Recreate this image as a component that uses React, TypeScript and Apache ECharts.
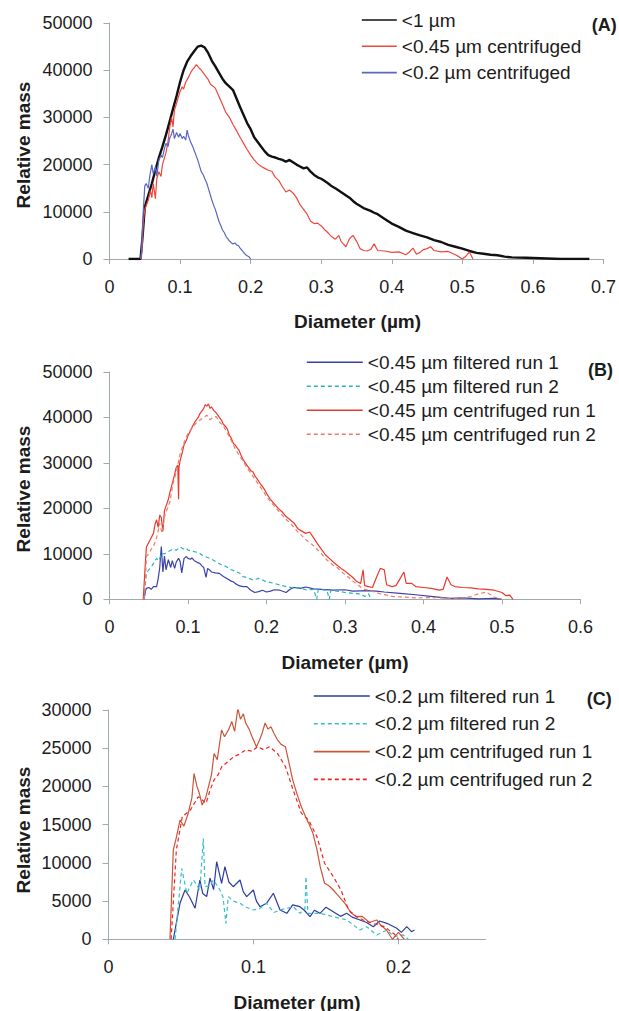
import React, { useEffect, useRef } from "react";
import * as echarts from "echarts";

// ---------- Data (diameter in µm, relative mass) ----------
// Panel A
const aBelow1: number[][] = [[0.027,0],[0.044,0],[0.047,5000],[0.05,11000],[0.055,13500],[0.06,16000],[0.065,18800],[0.07,21500],[0.075,23800],[0.08,26300],[0.085,29000],[0.09,31800],[0.095,34500],[0.1,37500],[0.105,40000],[0.11,41800],[0.115,43000],[0.12,44000],[0.125,45000],[0.13,45200],[0.135,44800],[0.14,43600],[0.145,42000],[0.15,40800],[0.155,39500],[0.16,38200],[0.165,37200],[0.17,36500],[0.175,35800],[0.18,34000],[0.185,32200],[0.19,30500],[0.195,28800],[0.2,27500],[0.205,25800],[0.21,24800],[0.215,23800],[0.22,22800],[0.225,22000],[0.23,21700],[0.235,21500],[0.24,21200],[0.245,21000],[0.25,20600],[0.255,21000],[0.26,20500],[0.265,20000],[0.27,19600],[0.275,19200],[0.28,19400],[0.285,18500],[0.29,17800],[0.295,17300],[0.3,17000],[0.305,16500],[0.31,16000],[0.315,15400],[0.32,15000],[0.33,14000],[0.34,13000],[0.345,12300],[0.35,11700],[0.36,10800],[0.37,10200],[0.375,9800],[0.38,9500],[0.39,8500],[0.4,7500],[0.41,6800],[0.42,6000],[0.43,5500],[0.44,5000],[0.45,4600],[0.46,4000],[0.47,3600],[0.48,3000],[0.49,2600],[0.5,2200],[0.51,1700],[0.52,1300],[0.53,1100],[0.54,900],[0.55,800],[0.56,500],[0.57,350],[0.58,300],[0.59,250],[0.6,200],[0.62,100],[0.64,0],[0.68,0]];
const aCentr045: number[][] = [[0.044,0],[0.046,2000],[0.048,8000],[0.05,10500],[0.055,12500],[0.058,14500],[0.06,13000],[0.062,16000],[0.065,12800],[0.067,17000],[0.07,18500],[0.073,17500],[0.075,20000],[0.08,22500],[0.083,25000],[0.085,27500],[0.088,30000],[0.09,28000],[0.092,31500],[0.095,33000],[0.1,35500],[0.103,36500],[0.105,36000],[0.108,37500],[0.11,38000],[0.113,38800],[0.115,39500],[0.118,40200],[0.12,40500],[0.123,41200],[0.125,40800],[0.128,40300],[0.13,40000],[0.135,39000],[0.14,38000],[0.143,37000],[0.145,36800],[0.15,36200],[0.155,34500],[0.16,32800],[0.165,31000],[0.17,30000],[0.175,28500],[0.18,27200],[0.185,25800],[0.19,24500],[0.195,23200],[0.2,22000],[0.205,21000],[0.21,20200],[0.215,19600],[0.22,19200],[0.225,18800],[0.23,18600],[0.235,17300],[0.24,16600],[0.245,15300],[0.25,14200],[0.255,14600],[0.26,14000],[0.265,13000],[0.27,11500],[0.275,10500],[0.28,9500],[0.285,8000],[0.29,7500],[0.295,7600],[0.3,7000],[0.305,6200],[0.31,5500],[0.315,4700],[0.32,4200],[0.325,5000],[0.328,3800],[0.33,3400],[0.335,2600],[0.34,4300],[0.345,5000],[0.35,3800],[0.355,2200],[0.36,1800],[0.365,1700],[0.37,2000],[0.375,3200],[0.38,1800],[0.39,1700],[0.4,1400],[0.41,1500],[0.42,900],[0.425,1500],[0.43,2300],[0.435,1000],[0.44,1400],[0.445,2000],[0.45,2200],[0.455,2600],[0.46,1800],[0.47,1500],[0.48,1600],[0.49,900],[0.495,500],[0.5,0],[0.505,600],[0.51,1500],[0.515,0]];
const aCentr02: number[][] = [[0.045,0],[0.047,8000],[0.05,15500],[0.052,16000],[0.055,15000],[0.057,17500],[0.06,20000],[0.062,18000],[0.065,19500],[0.067,17500],[0.07,21000],[0.073,22000],[0.075,21500],[0.078,23500],[0.08,24500],[0.083,23800],[0.085,25500],[0.088,26500],[0.09,27500],[0.092,25500],[0.095,26800],[0.098,25800],[0.1,26600],[0.103,25500],[0.105,26000],[0.108,25200],[0.11,27300],[0.112,26000],[0.115,24800],[0.118,23800],[0.12,23000],[0.125,21000],[0.13,18500],[0.133,17800],[0.135,17000],[0.138,16000],[0.14,15000],[0.143,13500],[0.145,12500],[0.148,11200],[0.15,10500],[0.153,9000],[0.155,8000],[0.158,7000],[0.16,6200],[0.163,5500],[0.165,4800],[0.168,4200],[0.17,3800],[0.173,3400],[0.175,3200],[0.178,3400],[0.18,3000],[0.183,2800],[0.185,2300],[0.188,1800],[0.19,1400],[0.193,900],[0.195,700],[0.198,400],[0.2,0]];

// Panel B
const bFilt1: number[][] = [[0.044,0],[0.046,2000],[0.047,2400],[0.05,2600],[0.053,2200],[0.056,2800],[0.06,2800],[0.062,4500],[0.064,7000],[0.066,11600],[0.068,6000],[0.07,9500],[0.072,6500],[0.075,8700],[0.078,7000],[0.08,8500],[0.083,6800],[0.085,8200],[0.088,9000],[0.09,8300],[0.092,5800],[0.095,9000],[0.098,9400],[0.1,9000],[0.103,8800],[0.105,9100],[0.108,8500],[0.11,8300],[0.113,8000],[0.115,7900],[0.118,7300],[0.12,7000],[0.123,4800],[0.125,6800],[0.128,6400],[0.13,6000],[0.135,5800],[0.14,5700],[0.145,5000],[0.15,4500],[0.155,4000],[0.158,3800],[0.16,3500],[0.165,3000],[0.17,2800],[0.175,2800],[0.18,2000],[0.185,1500],[0.19,1700],[0.195,2000],[0.2,1600],[0.205,1800],[0.21,2100],[0.217,2000],[0.225,1500],[0.23,2200],[0.235,2600],[0.243,2400],[0.25,2700],[0.26,2300],[0.27,2200],[0.285,2000],[0.3,2100],[0.31,1800],[0.328,1900],[0.34,1800],[0.35,1600],[0.37,1300],[0.39,1000],[0.412,600],[0.434,200],[0.45,300],[0.47,100],[0.49,200],[0.5,0]];
const bFilt2: number[][] = [[0.044,0],[0.046,4000],[0.047,5700],[0.05,6500],[0.053,7000],[0.056,7900],[0.06,9000],[0.063,8500],[0.066,10100],[0.07,10000],[0.075,10500],[0.08,11000],[0.085,10800],[0.09,11500],[0.095,11000],[0.098,11200],[0.1,10800],[0.105,10600],[0.11,10400],[0.115,10100],[0.12,9500],[0.125,9200],[0.132,8650],[0.14,7800],[0.149,7170],[0.155,6500],[0.16,6200],[0.166,5720],[0.17,5000],[0.175,4800],[0.183,4250],[0.19,4600],[0.2,3870],[0.21,3500],[0.22,3000],[0.226,2770],[0.235,2500],[0.24,2600],[0.251,2050],[0.26,2200],[0.264,0],[0.266,2200],[0.277,2000],[0.28,0],[0.282,2000],[0.294,1700],[0.3,1500],[0.311,1300],[0.32,1200],[0.325,600],[0.33,1200],[0.333,0]];
const bCentr1: number[][] = [[0.043,0],[0.045,6000],[0.047,11500],[0.05,12500],[0.053,13500],[0.056,14500],[0.058,16500],[0.06,17500],[0.062,15800],[0.064,18500],[0.066,18000],[0.068,15000],[0.07,19500],[0.073,21000],[0.075,22000],[0.077,23500],[0.08,25500],[0.083,27500],[0.085,29000],[0.087,29500],[0.088,22000],[0.0885,29000],[0.09,30500],[0.093,32500],[0.095,34000],[0.098,35000],[0.1,36000],[0.103,37000],[0.105,37800],[0.108,38800],[0.11,39300],[0.113,40000],[0.115,40800],[0.118,41500],[0.12,42000],[0.122,42800],[0.124,42500],[0.126,43000],[0.128,42000],[0.13,42300],[0.133,41500],[0.135,41200],[0.138,40500],[0.14,40000],[0.143,39300],[0.145,38500],[0.148,38000],[0.15,37500],[0.153,36000],[0.155,35500],[0.158,34200],[0.16,34000],[0.163,33200],[0.165,32800],[0.168,31500],[0.17,30800],[0.173,30000],[0.175,29500],[0.178,28800],[0.18,28300],[0.183,28000],[0.185,27200],[0.188,26500],[0.19,26000],[0.193,25200],[0.195,24800],[0.198,24000],[0.2,23300],[0.205,22000],[0.21,21000],[0.215,20000],[0.22,19200],[0.225,18200],[0.23,17500],[0.235,16800],[0.24,15500],[0.245,15000],[0.25,14500],[0.255,14800],[0.26,13500],[0.265,12200],[0.27,11000],[0.275,9800],[0.28,9000],[0.285,8200],[0.29,7500],[0.295,6800],[0.3,6200],[0.305,5500],[0.31,4800],[0.315,3900],[0.32,3500],[0.323,6500],[0.325,3000],[0.33,2800],[0.335,2600],[0.34,4800],[0.345,6800],[0.35,6500],[0.353,3200],[0.36,2800],[0.365,3000],[0.37,4500],[0.375,6000],[0.378,3500],[0.385,3500],[0.39,2800],[0.4,2600],[0.41,2400],[0.42,2000],[0.425,2200],[0.43,4900],[0.435,3200],[0.44,2800],[0.45,2600],[0.46,2500],[0.47,2300],[0.48,2200],[0.49,2000],[0.5,1500],[0.505,800],[0.51,900],[0.514,0]];
const bCentr2: number[][] = [[0.044,0],[0.046,5000],[0.047,9400],[0.05,10000],[0.053,11000],[0.056,11600],[0.06,13500],[0.064,16700],[0.067,14500],[0.07,18200],[0.073,19600],[0.077,21500],[0.081,25500],[0.085,28000],[0.09,32000],[0.095,34500],[0.1,36500],[0.105,37600],[0.11,38700],[0.115,39400],[0.12,40000],[0.124,40500],[0.128,39500],[0.132,40000],[0.136,40200],[0.14,39000],[0.145,38200],[0.149,36900],[0.155,35000],[0.16,33200],[0.166,31400],[0.17,30500],[0.175,29000],[0.183,27000],[0.19,25200],[0.195,24000],[0.2,22600],[0.21,20500],[0.22,18500],[0.2257,17450],[0.23,16800],[0.24,14800],[0.251,13000],[0.26,11800],[0.27,10000],[0.277,8650],[0.285,7500],[0.29,7000],[0.298,5700],[0.305,4800],[0.31,4000],[0.319,2800],[0.325,2200],[0.336,1700],[0.345,1200],[0.3615,600],[0.375,500],[0.391,300],[0.41,400],[0.434,200],[0.45,300],[0.46,600],[0.47,1200],[0.48,1600],[0.49,500],[0.5,0]];

// Panel C
const cFilt1: number[][] = [[0.0447,0],[0.0493,4710],[0.0528,6450],[0.056,5500],[0.0597,4060],[0.063,7760],[0.065,6000],[0.0677,5580],[0.07,8000],[0.0725,6500],[0.0746,10150],[0.078,7330],[0.0803,9500],[0.083,7500],[0.086,6880],[0.0907,7760],[0.093,6200],[0.0953,5580],[0.0999,6450],[0.102,5000],[0.1045,4270],[0.109,4710],[0.1137,6020],[0.1183,3830],[0.123,3400],[0.127,4500],[0.132,4270],[0.135,3800],[0.139,2960],[0.142,3800],[0.1459,3400],[0.15,4200],[0.155,3610],[0.16,3000],[0.1643,3400],[0.168,2900],[0.1734,2530],[0.178,2200],[0.1826,1650],[0.187,2400],[0.192,2090],[0.1988,1440],[0.202,900],[0.2057,1650],[0.209,1000],[0.211,1220]];
const cFilt2: number[][] = [[0.0459,0],[0.0505,9290],[0.054,6020],[0.0585,7760],[0.063,6450],[0.0654,13200],[0.0666,6880],[0.07,7000],[0.0723,7760],[0.0769,6450],[0.079,5500],[0.081,2090],[0.0826,5580],[0.086,5000],[0.0907,4710],[0.095,4200],[0.0999,3830],[0.104,4000],[0.109,4710],[0.114,3500],[0.1183,3830],[0.1274,4270],[0.132,3400],[0.1355,4000],[0.1362,8200],[0.1375,3400],[0.1459,3400],[0.155,2960],[0.1643,2530],[0.1734,1220],[0.178,1650],[0.185,570],[0.192,1220],[0.197,350],[0.2034,570],[0.2068,0]];
const cCentr1: number[][] = [[0.0424,0],[0.0447,11700],[0.047,13500],[0.0493,15600],[0.052,14800],[0.055,16500],[0.0575,18500],[0.059,21700],[0.061,20000],[0.0625,19200],[0.0646,17570],[0.067,18500],[0.069,20000],[0.071,21500],[0.0728,24300],[0.075,23500],[0.078,27400],[0.08,26500],[0.083,27500],[0.085,28500],[0.087,27200],[0.0892,30200],[0.091,28800],[0.093,29500],[0.0946,28300],[0.097,27500],[0.099,26500],[0.102,25200],[0.104,26000],[0.106,27000],[0.108,28300],[0.11,27500],[0.112,27800],[0.114,27000],[0.1165,26100],[0.119,25500],[0.122,25200],[0.124,23500],[0.127,20900],[0.13,19000],[0.133,17350],[0.136,16000],[0.138,15200],[0.141,13870],[0.1438,11700],[0.146,9500],[0.149,7330],[0.152,7000],[0.155,6450],[0.158,5800],[0.163,4710],[0.167,3500],[0.171,2960],[0.175,3000],[0.18,2200],[0.185,2530],[0.188,1800],[0.1917,1220],[0.1958,0],[0.2,900],[0.204,0]];
const cCentr2: number[][] = [[0.0432,0],[0.0468,11700],[0.0509,16050],[0.0564,16900],[0.0619,18650],[0.0673,17800],[0.07,19500],[0.0728,20850],[0.0755,21500],[0.0782,22600],[0.082,23200],[0.0864,23900],[0.09,24200],[0.0946,24770],[0.099,24600],[0.1028,25200],[0.107,24800],[0.111,25200],[0.1165,24330],[0.122,22600],[0.1273,19550],[0.133,16500],[0.138,15600],[0.1438,13400],[0.149,9950],[0.155,8200],[0.1603,6450],[0.1657,3830],[0.171,2960],[0.176,2500],[0.182,2090],[0.1903,1650],[0.197,700],[0.2,0]];

const namesA = ["<1 µm", "<0.45 µm centrifuged", "<0.2 µm centrifuged"];
const namesB = ["<0.45 µm filtered run 1", "<0.45 µm filtered run 2", "<0.45 µm centrifuged run 1", "<0.45 µm centrifuged run 2"];
const namesC = ["<0.2 µm filtered run 1", "<0.2 µm filtered run 2", "<0.2 µm centrifuged run 1", "<0.2 µm centrifuged run 2"];
const panelTags = ["(A)", "(B)", "(C)"];
const xTitle = "Diameter (µm)";
const yTitle = "Relative mass";
const cXTicks = [0, 0.1, 0.2];

const FONT = "'Liberation Sans', Arial, sans-serif";
const AXIS_COLOR = "#a0a8b0";
const TEXT_COLOR = "#1c1c1c";

export default function App() {
  const ref = useRef<HTMLDivElement>(null);
  useEffect(() => {
    document.body.style.margin = "0";
    const chart = echarts.init(ref.current!, null, { renderer: "svg" });

    const grids = [
      { left: 109.5, top: 23, width: 495.5, height: 236 },
      { left: 109.5, top: 372, width: 471, height: 227.3 },
      { left: 108.5, top: 710, width: 377, height: 229.3 },
    ];

    const axisCommon = {
      axisLine: { show: true, lineStyle: { color: AXIS_COLOR, width: 1 } },
      axisTick: { show: true, length: 5, lineStyle: { color: AXIS_COLOR } },
      splitLine: { show: false },
    };

    const xAxes = [
      { gridIndex: 0, type: "value", min: 0, max: 0.7, interval: 0.1 },
      { gridIndex: 1, type: "value", min: 0, max: 0.6, interval: 0.1 },
      {
        gridIndex: 2, type: "value", min: 0, max: 0.26,
        axisTick: { show: true, length: 5, lineStyle: { color: AXIS_COLOR }, customValues: cXTicks },
        axisLabel: { customValues: cXTicks, fontSize: 18, fontFamily: FONT, color: TEXT_COLOR, margin: 19, formatter: (v: number) => String(v) },
      },
    ].map((a: any) => ({
      ...axisCommon,
      axisLabel: { fontSize: 18, fontFamily: FONT, color: TEXT_COLOR, margin: 19, formatter: (v: number) => String(v) },
      ...a,
    }));

    const yAxes = [
      { gridIndex: 0, type: "value", min: 0, max: 50000, interval: 10000 },
      { gridIndex: 1, type: "value", min: 0, max: 50000, interval: 10000 },
      { gridIndex: 2, type: "value", min: 0, max: 30000, interval: 5000 },
    ].map((a: any) => ({
      ...axisCommon,
      axisTick: { show: true, length: 6, lineStyle: { color: AXIS_COLOR } },
      axisLabel: { fontSize: 18, fontFamily: FONT, color: TEXT_COLOR, margin: 17, formatter: (v: number) => String(v) },
      ...a,
    }));

    const line = (name: string, data: number[][], idx: number, color: string, width: number, dashed: boolean) => ({
      type: "line",
      name,
      data,
      xAxisIndex: idx,
      yAxisIndex: idx,
      symbol: "none",
      showSymbol: false,
      smooth: false,
      lineStyle: { color, width, type: dashed ? [4, 3] : "solid" },
      itemStyle: { color },
      emphasis: { disabled: true },
    });

    const series = [
      line(namesA[0], aBelow1, 0, "#111111", 2.4, false),
      line(namesA[1], aCentr045, 0, "#f0473d", 1.2, false),
      line(namesA[2], aCentr02, 0, "#5a67c2", 1.2, false),
      line(namesB[0], bFilt1, 1, "#3c41a8", 1.2, false),
      line(namesB[1], bFilt2, 1, "#2bb3bd", 1.2, true),
      line(namesB[2], bCentr1, 1, "#e83a2e", 1.2, false),
      line(namesB[3], bCentr2, 1, "#f07a68", 1.2, true),
      line(namesC[0], cFilt1, 2, "#2c3c9e", 1.2, false),
      line(namesC[1], cFilt2, 2, "#38bfc8", 1.2, true),
      line(namesC[2], cCentr1, 2, "#c9563a", 1.2, false),
      line(namesC[3], cCentr2, 2, "#f02424", 1.2, true),
    ];

    const legendText = { fontSize: 19, fontFamily: FONT, color: TEXT_COLOR, lineHeight: 19 };
    const legends = [
      { data: namesA, left: 361, top: 10.5, itemWidth: 35, itemGap: 7.3 },
      { data: namesB, left: 306, top: 352.8, itemWidth: 56, itemGap: 5 },
      { data: namesC, left: 313, top: 686.5, itemWidth: 56, itemGap: 8.8 },
    ].map((l) => ({
      ...l,
      orient: "vertical",
      padding: 0,
      itemHeight: 10,
      textStyle: legendText,
      selectedMode: false,
      itemStyle: { opacity: 0 },
      lineStyle: { width: 1.6 },
    }));

    const tagPos = [[591.7, 25], [588, 370], [586.7, 699]];
    const xTitlePos = [[357.5, 321], [345, 662], [297, 1002]];
    const yTitlePos = [[23, 145], [23, 489], [23, 830]];
    const graphic: any[] = [];
    for (let i = 0; i < 3; i++) {
      graphic.push({
        type: "text", x: tagPos[i][0], y: tagPos[i][1],
        style: { text: panelTags[i], fontSize: 18, fontWeight: "bold", fontFamily: FONT, fill: TEXT_COLOR, align: "left", verticalAlign: "middle" },
      });
      graphic.push({
        type: "text", x: xTitlePos[i][0], y: xTitlePos[i][1],
        style: { text: xTitle, fontSize: 19, fontWeight: "bold", fontFamily: FONT, fill: TEXT_COLOR, align: "center", verticalAlign: "middle" },
      });
      graphic.push({
        type: "text", x: yTitlePos[i][0], y: yTitlePos[i][1], rotation: Math.PI / 2,
        style: { text: yTitle, fontSize: 19, fontWeight: "bold", fontFamily: FONT, fill: TEXT_COLOR, align: "center", verticalAlign: "middle" },
      });
    }

    chart.setOption({
      animation: false,
      backgroundColor: "#ffffff",
      grid: grids,
      xAxis: xAxes,
      yAxis: yAxes,
      legend: legends,
      series,
      graphic,
    });

    return () => chart.dispose();
  }, []);

  return <div ref={ref} style={{ width: 619, height: 1011 }} />;
}
